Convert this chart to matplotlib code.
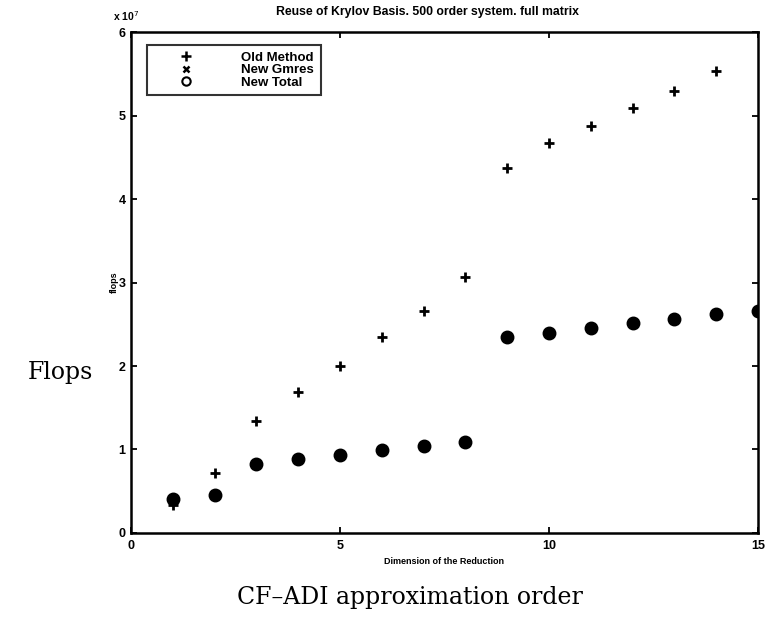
import matplotlib
matplotlib.use("Agg")
import matplotlib.pyplot as plt
from matplotlib.lines import Line2D
import numpy as np

# Data (values in units of 1e7 flops)
dims_old = [1, 2, 3, 4, 5, 6, 7, 8, 9, 10, 11, 12, 13, 14]
old_method = [0.34, 0.72, 1.34, 1.69, 2.00, 2.35, 2.66, 3.07, 4.37, 4.67, 4.88, 5.09, 5.29, 5.54]
dims_new = [1, 2, 3, 4, 5, 6, 7, 8, 9, 10, 11, 12, 13, 14, 15]
new_gmres = [0.41, 0.46, 0.83, 0.89, 0.93, 0.99, 1.04, 1.09, 2.35, 2.40, 2.46, 2.51, 2.56, 2.62, 2.66]
new_total = [0.41, 0.46, 0.83, 0.89, 0.93, 0.99, 1.04, 1.09, 2.35, 2.40, 2.46, 2.51, 2.56, 2.62, 2.66]
xticks = [0, 5, 10, 15]
yticks = [0, 1, 2, 3, 4, 5, 6]
series_labels = ['Old Method', 'New Gmres', 'New Total']

plt.rcParams['font.family'] = ['Liberation Sans', 'DejaVu Sans']

fig = plt.figure(figsize=(7.71, 6.19), dpi=100)
ax = fig.add_axes([0.170, 0.139, 0.813, 0.809])

scale = 1e7
ax.plot(dims_old, np.array(old_method) * scale, linestyle='none', marker='+',
        color='black', markersize=7.5, markeredgewidth=2.0)
ax.plot(dims_new, np.array(new_gmres) * scale, linestyle='none', marker='x',
        color='black', markersize=5, markeredgewidth=2.0)
ax.plot(dims_new, np.array(new_total) * scale, linestyle='none', marker='o',
        markerfacecolor='black', markeredgecolor='black', markersize=8.5,
        markeredgewidth=1.5)

ax.set_xlim(0, 15)
ax.set_ylim(0, 6 * scale)
ax.set_xticks(xticks)
ax.set_yticks([v * scale for v in yticks])
ax.set_xticklabels([str(v) for v in xticks], fontsize=9, fontweight='bold')
ax.set_yticklabels([str(v) for v in yticks], fontsize=9, fontweight='bold')
ax.tick_params(axis='x', direction='in', length=4, width=1.3, top=True, pad=5)
ax.tick_params(axis='y', direction='in', length=4, width=1.3, right=True, pad=4)
for s in ax.spines.values():
    s.set_linewidth(1.8)

fig.text(0.555, 0.981, 'Reuse of Krylov Basis. 500 order system. full matrix',
         fontsize=8.8, fontweight='bold', ha='center', va='center')
ax.set_xlabel('Dimension of the Reduction', fontsize=6.5, fontweight='bold', labelpad=4)
ax.set_ylabel('flops', fontsize=6.5, fontweight='bold', labelpad=0)
fig.text(0.146, 0.974, r'x 10$^7$', fontsize=7.5, fontweight='bold', ha='left', va='center')

handles = [
    Line2D([], [], linestyle='none', marker='+', color='black', markersize=7, markeredgewidth=1.8),
    Line2D([], [], linestyle='none', marker='x', color='black', markersize=4.5, markeredgewidth=1.8),
    Line2D([], [], linestyle='none', marker='o', markerfacecolor='white', markeredgecolor='black',
           markersize=6, markeredgewidth=1.5),
]
leg = ax.legend(handles, series_labels, loc='upper left',
                bbox_to_anchor=(0.0255, 0.974), borderaxespad=0, fancybox=False, frameon=True,
                prop={'size': 9.5, 'weight': 'bold'}, handletextpad=1.8, borderpad=0.5,
                labelspacing=0.0, handlelength=4.85, markerfirst=True)
leg.get_frame().set_edgecolor('black')
leg.get_frame().set_linewidth(1.5)

fig.text(0.079, 0.398, 'Flops', fontsize=17, family=['DejaVu Serif'], ha='center', va='center')
fig.text(0.532, 0.035, 'CF\u2013ADI approximation order', fontsize=17, family=['DejaVu Serif'],
         ha='center', va='center')

fig.savefig('out.png', dpi=100)
